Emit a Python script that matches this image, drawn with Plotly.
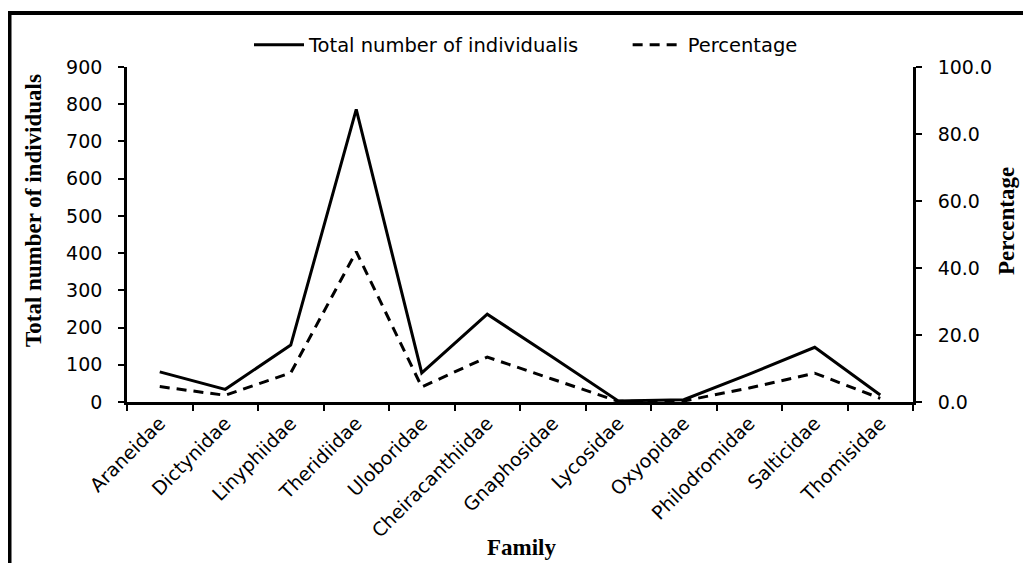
import plotly.graph_objects as go

families = ["Araneidae", "Dictynidae", "Linyphiidae", "Theridiidae", "Uloboridae",
            "Cheiracanthiidae", "Gnaphosidae", "Lycosidae", "Oxyopidae",
            "Philodromidae", "Salticidae", "Thomisidae"]
total_individuals = [81, 34, 153, 786, 78, 236, 120, 3, 6, 75, 147, 19]
percentage = [4.6, 2.0, 8.7, 44.9, 4.5, 13.4, 6.8, 0.2, 0.3, 4.2, 8.6, 1.1]

y_ticks = [0, 100, 200, 300, 400, 500, 600, 700, 800, 900]
y2_ticks = [0, 20, 40, 60, 80, 100]

# page offset (body margin) and plot area in page pixels
OFF = 8
W, H = 1031 - OFF, 563 - OFF
L, R, T, B = 127, 913, 67, 402

def px_x(p):
    return (p - L) / (R - L)

def px_y(p):
    return (B - p) / (B - T)

tick_font = dict(family="DejaVu Sans", size=19, color="black")
cat_font = dict(family="DejaVu Sans", size=19, color="black")
title_font = dict(family="Liberation Serif", size=23, color="black")
NB = "\u00a0"

fig = go.Figure()
fig.add_trace(go.Scatter(
    x=families, y=total_individuals, name="Total number of individualis" + NB * 7,
    mode="lines", line=dict(color="black", width=3), yaxis="y"))
fig.add_trace(go.Scatter(
    x=families, y=percentage, name="Percentage",
    mode="lines", line=dict(color="black", width=3, dash="10px,7px"), yaxis="y2"))

fig.update_layout(
    width=W, height=H,
    margin=dict(l=L - OFF, r=W - (R - OFF), t=T - OFF, b=H - (B - OFF), pad=0),
    paper_bgcolor="white", plot_bgcolor="white",
    showlegend=True,
    legend=dict(orientation="h", x=px_x(526), xanchor="center", y=px_y(45), yanchor="middle",
                font=dict(family="DejaVu Sans", size=19.5, color="black"),
                bgcolor="rgba(0,0,0,0)", itemwidth=50),
    xaxis=dict(
        type="category", range=[-0.5, 11.5],
        showline=True, linecolor="black", linewidth=2.5,
        ticks="outside", ticklen=6, tickwidth=2, tickcolor="black",
        tickson="boundaries", tickangle=-45, tickfont=cat_font,
        showgrid=False, zeroline=False, fixedrange=True),
    yaxis=dict(
        range=[0, 900], tickvals=y_ticks, ticktext=[f"{v}{NB}{NB}" for v in y_ticks],
        showline=True, linecolor="black", linewidth=2.5,
        ticks="outside", ticklen=6, tickwidth=2, tickcolor="black",
        tickfont=tick_font, showgrid=False, zeroline=False),
    yaxis2=dict(
        range=[0, 100], tickvals=y2_ticks, ticktext=[f"{NB}{NB}{v:.1f}" for v in y2_ticks],
        overlaying="y", side="right",
        showline=True, linecolor="black", linewidth=2.5,
        ticks="outside", ticklen=6, tickwidth=2, tickcolor="black",
        tickfont=tick_font, showgrid=False, zeroline=False),
)

annotations = [
    dict(text="<b>Total number of individuals</b>", x=px_x(33), y=px_y(211), textangle=-90,
         font=title_font),
    dict(text="<b>Percentage</b>", x=px_x(1006), y=px_y(221), textangle=-90,
         font=title_font),
    dict(text="<b>Family</b>", x=px_x(521), y=px_y(547), font=title_font),
]
for a in annotations:
    a.update(xref="paper", yref="paper", showarrow=False, xanchor="center", yanchor="middle")
fig.update_layout(annotations=annotations)

# outer frame (left and top edges visible)
fig.add_shape(type="line", xref="paper", yref="paper",
              x0=px_x(9.5), x1=px_x(9.5), y0=px_y(11), y1=px_y(620),
              line=dict(color="black", width=4))
fig.add_shape(type="line", xref="paper", yref="paper",
              x0=px_x(7.5), x1=px_x(1060), y0=px_y(13), y1=px_y(13),
              line=dict(color="black", width=4))

fig.write_html("out.html")
